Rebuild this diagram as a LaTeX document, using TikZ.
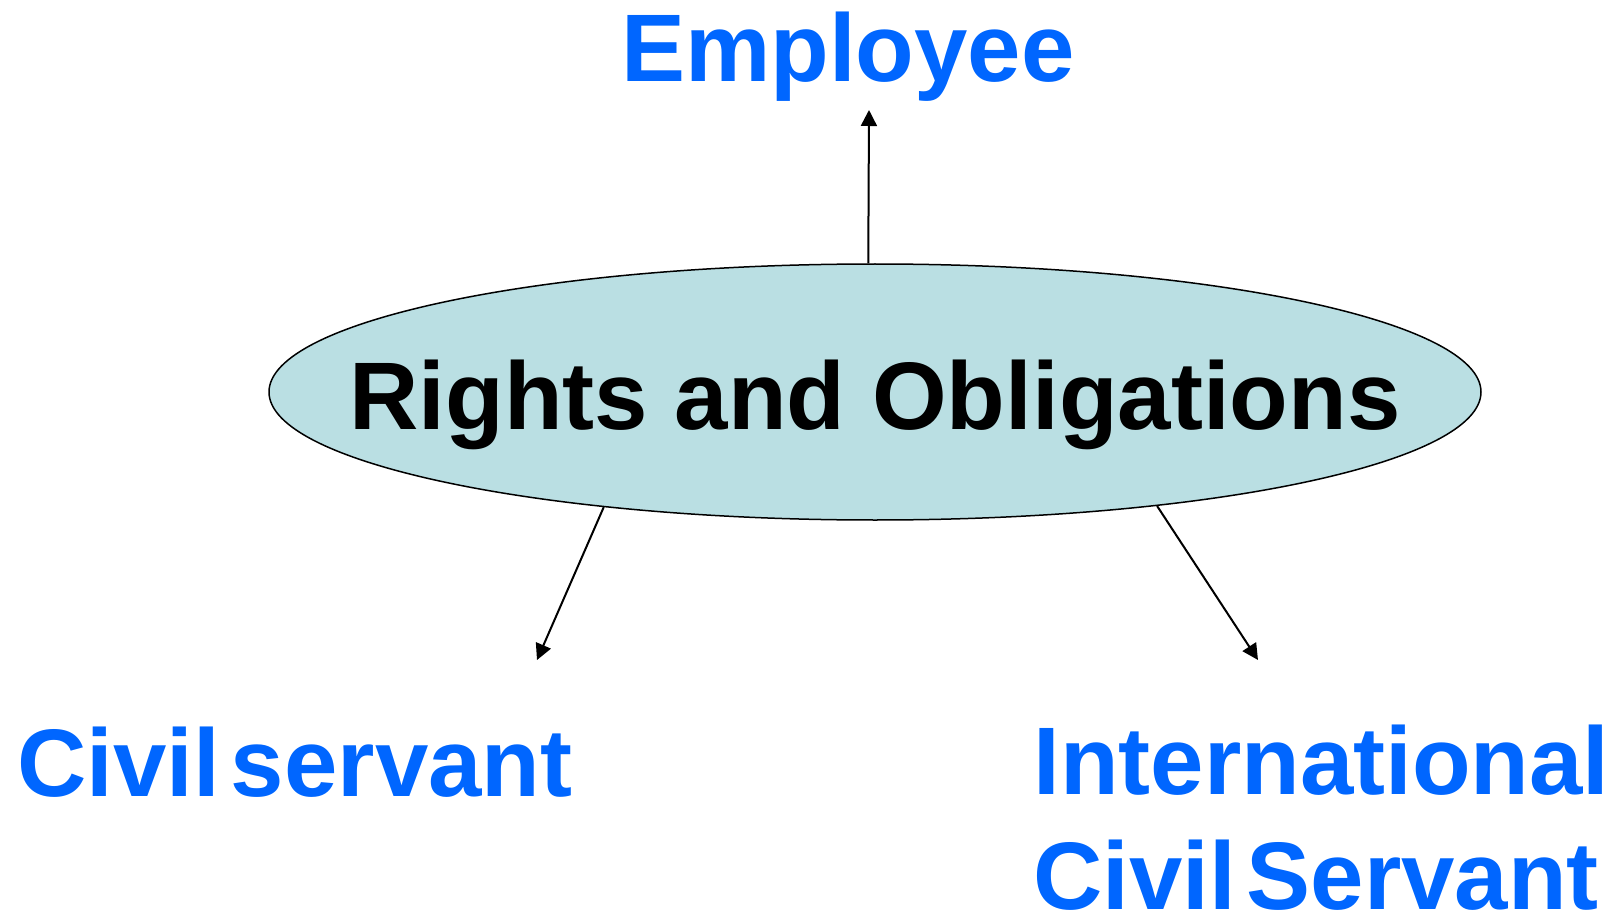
\documentclass[tikz,border=0pt]{standalone}
\usepackage{fontspec}
\setmainfont{Liberation Sans}
\newfontfamily\termfont[WordSpace=0.4]{Liberation Sans}
\usetikzlibrary{shapes.geometric,arrows.meta}
\definecolor{termblue}{HTML}{0066FF}
\definecolor{ovalfill}{HTML}{BADFE3}
\tikzset{
  term/.style={text=termblue, font=\termfont\fontsize{48}{57.5}\selectfont\bfseries, inner sep=0pt},
  link/.style={-{Triangle[length=8pt,width=8pt]}, line width=1pt}
}
\begin{document}
\begin{tikzpicture}[x=0.5pt, y=-0.5pt]
    \useasboundingbox (0,0) rectangle (1614,915);
    \node[ellipse, draw, line width=0.75pt, fill=ovalfill, minimum width=606pt, minimum height=128pt, inner sep=0pt] (oval) at (875,392) {};
    \node[anchor=base, inner sep=0pt, font=\fontsize{48}{57.5}\selectfont\bfseries] (rights) at (875,429) {Rights and Obligations};
    \node[term, anchor=base] (employee) at (848,82) {Employee};
    \node[term, anchor=base] (civil) at (295,796) {Civil servant};
    \node[term, anchor=base west, align=left] (intl) at (1033,909) {International\\Civil Servant};
    \coordinate (toemployee) at (869,110);
    \coordinate (tocivil) at (537,660);
    \coordinate (tointl) at (1258,660);
    \draw[link] (oval.93) -- (toemployee);
    \draw[link] (oval.203.8) -- (tocivil);
    \draw[link] (oval.338.1) -- (tointl);
\end{tikzpicture}
\end{document}
